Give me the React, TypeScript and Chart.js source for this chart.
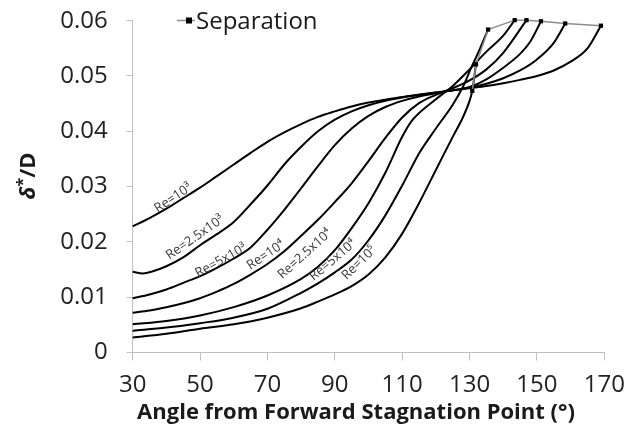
import React, { useEffect, useRef } from 'react';
import { Chart, registerables } from 'chart.js';

Chart.register(...registerables);

const FONT = '"Open Sans", "Noto Sans", sans-serif';

// ---- axis ----
const xMin = 30;
const xMax = 170;
const xStep = 20;
const yMin = 0;
const yMax = 0.06;
const yStep = 0.01;

// ---- curves (angle in degrees, delta*/D) ----
const re1e3Angles = [30, 35, 40, 45, 50, 55, 60, 65, 70, 75, 80, 85, 90, 95, 100, 105, 110, 115, 120, 125, 130, 135, 140, 145, 150, 155, 160, 165, 169];
const re1e3Values = [0.0228, 0.0243, 0.026, 0.0279, 0.0298, 0.0319, 0.034, 0.0361, 0.0381, 0.0398, 0.0413, 0.0426, 0.0436, 0.0445, 0.0452, 0.0457, 0.0462, 0.0466, 0.047, 0.0474, 0.0478, 0.0482, 0.0487, 0.0493, 0.05, 0.051, 0.0526, 0.055, 0.0591];

const re25e3Angles = [30, 33, 36, 40, 45, 50, 55, 60, 65, 70, 75, 80, 85, 90, 95, 100, 105, 110, 115, 120, 125, 130, 135, 140, 145, 150, 155, 158.4];
const re25e3Values = [0.0146, 0.0143, 0.0147, 0.0156, 0.0172, 0.0194, 0.0214, 0.0236, 0.0268, 0.0302, 0.034, 0.0372, 0.04, 0.0421, 0.0436, 0.0447, 0.0455, 0.0461, 0.0466, 0.047, 0.0474, 0.0479, 0.0486, 0.0496, 0.051, 0.053, 0.056, 0.0595];

const re5e3Angles = [30, 35, 40, 45, 50, 55, 60, 65, 70, 75, 80, 85, 90, 95, 100, 105, 110, 115, 120, 125, 130, 135, 140, 145, 148, 151.2];
const re5e3Values = [0.0098, 0.0105, 0.0114, 0.0126, 0.0138, 0.0153, 0.017, 0.019, 0.0222, 0.0258, 0.0297, 0.0337, 0.0375, 0.0405, 0.0428, 0.0444, 0.0455, 0.0463, 0.0469, 0.0474, 0.048, 0.0494, 0.0515, 0.054, 0.0562, 0.0599];

const re1e4Angles = [30, 35, 40, 45, 50, 55, 60, 65, 70, 75, 80, 85, 90, 95, 100, 105, 110, 115, 120, 125, 130, 135, 140, 146.9];
const re1e4Values = [0.0072, 0.0076, 0.0082, 0.0089, 0.0098, 0.011, 0.0124, 0.0141, 0.016, 0.0183, 0.0211, 0.024, 0.0272, 0.0306, 0.0346, 0.0388, 0.0425, 0.0451, 0.0466, 0.0478, 0.0492, 0.0512, 0.0542, 0.0601];

const re25e4Angles = [30, 40, 50, 60, 70, 80, 85, 90, 95, 100, 105, 110, 113, 120, 125, 130, 135, 140, 143.4];
const re25e4Values = [0.0051, 0.0057, 0.0067, 0.0082, 0.0103, 0.0133, 0.0155, 0.0185, 0.0225, 0.027, 0.0325, 0.039, 0.042, 0.0458, 0.0482, 0.0512, 0.0544, 0.0573, 0.0601];

const re5e4Angles = [30, 40, 50, 60, 70, 80, 85, 90, 95, 100, 105, 110, 115, 120, 125, 128, 130.5, 133, 135.5];
const re5e4Values = [0.0039, 0.0045, 0.0053, 0.0063, 0.0079, 0.0108, 0.0125, 0.0145, 0.0168, 0.0203, 0.0248, 0.0302, 0.036, 0.0405, 0.0448, 0.048, 0.0515, 0.0548, 0.0584];

const re1e5Angles = [30, 40, 50, 60, 70, 80, 85, 90, 95, 100, 105, 110, 115, 120, 125, 128, 130, 130.8, 131.9];
const re1e5Values = [0.0027, 0.0034, 0.0043, 0.0051, 0.0063, 0.008, 0.0092, 0.0105, 0.012, 0.0141, 0.0172, 0.0215, 0.027, 0.033, 0.039, 0.0425, 0.0455, 0.0473, 0.0521];

// ---- separation points ----
const sepAngles = [130.8, 131.9, 135.5, 143.4, 146.9, 151.2, 158.4, 169];
const sepValues = [0.0473, 0.0521, 0.0584, 0.0601, 0.0601, 0.0599, 0.0595, 0.0591];

// ---- curve labels ----
const curveLabels = ['Re=10³', 'Re=2.5x10³', 'Re=5x10³', 'Re=10⁴', 'Re=2.5x10⁴', 'Re=5x10⁴', 'Re=10⁵'];
const labelAnchorAngles = [42.0, 48.5, 56.2, 69.5, 81.1, 89.4, 97.2];
const labelAnchorValues = [0.0279, 0.0208, 0.0166, 0.0176, 0.0178, 0.0167, 0.0162];
const labelRotations = [-34, -35, -29, -34, -42, -40, -44];

const legendLabel = 'Separation';
const xTitle = 'Angle from Forward Stagnation Point (°)';

const curveSets = [
  [re1e3Angles, re1e3Values],
  [re25e3Angles, re25e3Values],
  [re5e3Angles, re5e3Values],
  [re1e4Angles, re1e4Values],
  [re25e4Angles, re25e4Values],
  [re5e4Angles, re5e4Values],
  [re1e5Angles, re1e5Values],
];

const toPoints = (xs: number[], ys: number[]) => xs.map((x, i) => ({ x, y: ys[i] }));

const overlayPlugin = {
  id: 'overlay',
  afterDatasetsDraw(chart: any) {
    const { ctx, scales } = chart;
    const xs = scales.x;
    const ys = scales.y;
    ctx.save();
    // curve labels
    ctx.fillStyle = '#3a3a3a';
    ctx.font = `13px ${FONT}`;
    ctx.textAlign = 'center';
    ctx.textBaseline = 'middle';
    curveLabels.forEach((t, i) => {
      const px = xs.getPixelForValue(labelAnchorAngles[i]);
      const py = ys.getPixelForValue(labelAnchorValues[i]);
      ctx.save();
      ctx.translate(px, py);
      ctx.rotate((labelRotations[i] * Math.PI) / 180);
      ctx.fillText(t, 0, 0);
      ctx.restore();
    });

    // legend
    const ly = 20.5;
    ctx.strokeStyle = '#8c8c8c';
    ctx.lineWidth = 1.5;
    ctx.beginPath();
    ctx.moveTo(177, ly);
    ctx.lineTo(195, ly);
    ctx.stroke();
    ctx.fillStyle = '#000';
    ctx.fillRect(186, ly - 3, 6, 6);
    ctx.fillStyle = '#1a1a1a';
    ctx.font = `24px ${FONT}`;
    ctx.textAlign = 'left';
    ctx.textBaseline = 'alphabetic';
    ctx.fillText(legendLabel, 196, 29);

    // x title
    ctx.font = `bold 22px ${FONT}`;
    ctx.textAlign = 'center';
    ctx.textBaseline = 'middle';
    ctx.fillStyle = '#1a1a1a';
    ctx.fillText(xTitle, 356, 413);

    // y title
    ctx.save();
    ctx.translate(29, 176);
    ctx.rotate(-Math.PI / 2);
    const pieces = [
      { t: 'δ', f: `italic bold 22px ${FONT}`, dy: 0 },
      { t: '*', f: `bold 16px ${FONT}`, dy: -6 },
      { t: '/D', f: `bold 22px ${FONT}`, dy: 0 },
    ];
    let total = 0;
    pieces.forEach((p) => {
      ctx.font = p.f;
      total += ctx.measureText(p.t).width;
    });
    let cx = -total / 2;
    ctx.textAlign = 'left';
    ctx.textBaseline = 'middle';
    pieces.forEach((p) => {
      ctx.font = p.f;
      ctx.fillText(p.t, cx, p.dy);
      cx += ctx.measureText(p.t).width;
    });
    ctx.restore();
    ctx.restore();
  },
};

export default function App() {
  const ref = useRef<HTMLCanvasElement | null>(null);
  useEffect(() => {
    if (!ref.current) return;
    const datasets: any[] = [
      {
        label: legendLabel,
        data: toPoints(sepAngles, sepValues),
        borderColor: '#8c8c8c',
        borderWidth: 1.5,
        pointStyle: 'rect',
        pointRadius: 3,
        pointBackgroundColor: '#000',
        pointBorderColor: '#000',
        pointBorderWidth: 0,
        tension: 0,
        clip: false,
      },
      ...curveSets.map(([xs, ys], i) => ({
        label: curveLabels[i],
        data: toPoints(xs as number[], ys as number[]),
        borderColor: '#000',
        borderWidth: 2,
        pointRadius: 0,
        cubicInterpolationMode: 'monotone',
        clip: false,
      })),
    ];
    const chart = new Chart(ref.current, {
      type: 'line',
      data: { datasets },
      plugins: [overlayPlugin],
      options: {
        animation: false,
        responsive: false,
        devicePixelRatio: 1,
        layout: { padding: { top: 20.7, right: 37.7, left: 0, bottom: 0 } },
        plugins: { legend: { display: false }, tooltip: { enabled: false } },
        scales: {
          x: {
            type: 'linear',
            min: xMin,
            max: xMax,
            afterFit: (s: any) => {
              s.height = 79.5;
              s.paddingLeft = 0;
              s.paddingRight = 0;
            },
            ticks: {
              stepSize: xStep,
              color: '#222',
              font: { family: FONT, size: 24 },
              padding: 10,
              maxRotation: 0,
            },
            grid: { drawOnChartArea: false, drawTicks: true, tickLength: 8, color: '#bfbfbf' },
            border: { color: '#bfbfbf', width: 1 },
          },
          y: {
            min: yMin,
            max: yMax,
            afterFit: (s: any) => {
              s.width = 132.7;
              s.paddingTop = 0;
              s.paddingBottom = 0;
            },
            ticks: {
              stepSize: yStep,
              color: '#222',
              font: { family: FONT, size: 24 },
              padding: 19,
              callback: (v: any) => (Number(v) === 0 ? '0' : Number(v).toFixed(2)),
            },
            grid: { drawOnChartArea: false, drawTicks: true, tickLength: 6, color: '#bfbfbf' },
            border: { color: '#bfbfbf', width: 1 },
          },
        },
      } as any,
    });
    return () => chart.destroy();
  }, []);
  return (
    <div style={{ position: 'fixed', left: 0, top: 0, width: 642, height: 432, background: '#fff' }}>
      <canvas ref={ref} width={642} height={432} style={{ width: 642, height: 432 }} />
    </div>
  );
}
